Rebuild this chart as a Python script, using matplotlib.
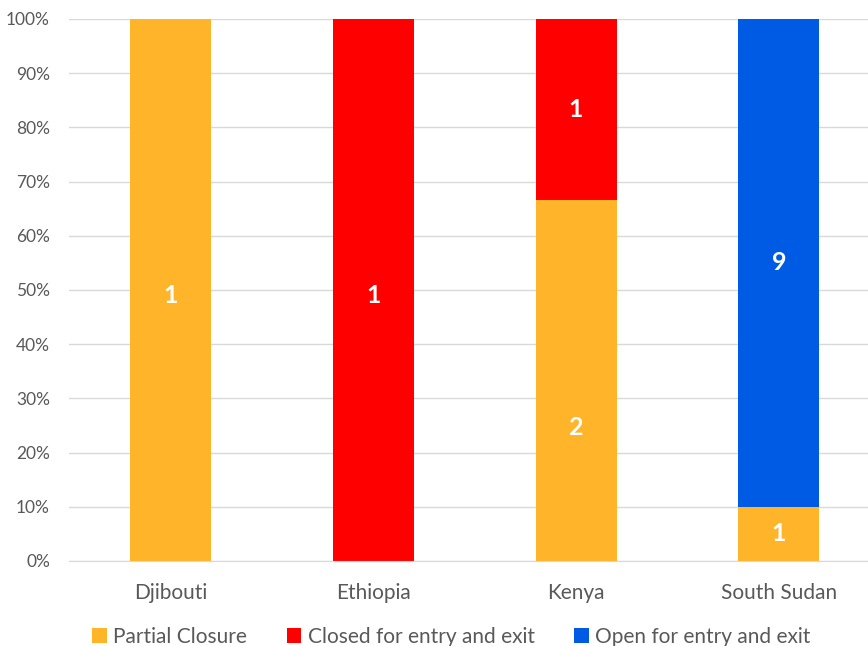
import numpy as np
import matplotlib
matplotlib.use("Agg")
import matplotlib.pyplot as plt
from matplotlib.ticker import PercentFormatter

plt.rcParams['font.family'] = ['Lato', 'DejaVu Sans']

countries = ['Djibouti', 'Ethiopia', 'Kenya', 'South Sudan']
series_names = ['Partial Closure', 'Closed for entry and exit', 'Open for entry and exit']
partial = [1, 0, 2, 1]
closed = [0, 1, 1, 0]
open_ = [0, 0, 0, 9]
colors = ['#FFB42A', '#FF0000', '#005BE4']

counts = np.array([partial, closed, open_], dtype=float)
totals = counts.sum(axis=0)
shares = counts / totals * 100

# where inside its segment each label sits (0.5 = middle), as in the source
label_pos = np.full(counts.shape, 0.5)
label_pos[0, 0] = 0.49
label_pos[1, 1] = 0.49
label_pos[0, 2] = 0.37

fig = plt.figure(figsize=(8.68, 6.46), dpi=100)
ax = fig.add_axes([0.080, 0.1316, 0.934, 0.839])
x = np.arange(len(countries))
bottom = np.zeros(len(countries))
for k, (name, vals, cnt, col) in enumerate(zip(series_names, shares, counts, colors)):
    ax.bar(x, vals, 0.4, bottom=bottom, color=col, label=name, zorder=2)
    for i, (xi, v, b, c) in enumerate(zip(x, vals, bottom, cnt)):
        if c > 0:
            ax.text(xi, b + v * label_pos[k, i], f"{int(c)}", ha='center', va='center',
                    color='white', fontsize=18, fontweight='bold', zorder=3)
    bottom += vals

ax.set_xlim(-0.5, 3.5)
ax.set_ylim(0, 100)
ax.set_yticks(np.arange(0, 101, 10))
ax.yaxis.set_major_formatter(PercentFormatter(decimals=0))
ax.grid(axis='y', color='#D9D9D9', linewidth=1, zorder=0)
for s in ['top', 'right', 'left']:
    ax.spines[s].set_visible(False)
ax.spines['bottom'].set_color('#D9D9D9')
ax.tick_params(axis='both', length=0, colors='#595959')
ax.tick_params(axis='y', labelsize=12.5, pad=14)
ax.tick_params(axis='x', labelsize=15, pad=16)
ax.set_xticks(x)
ax.set_xticklabels(countries)

fig.legend(loc='center', bbox_to_anchor=(0.52, 0.014), ncol=3, frameon=False,
           fontsize=15, handlelength=0.7, handleheight=0.7, handletextpad=0.3,
           columnspacing=1.9, labelcolor='#595959')

fig.savefig('out.png', dpi=100)
